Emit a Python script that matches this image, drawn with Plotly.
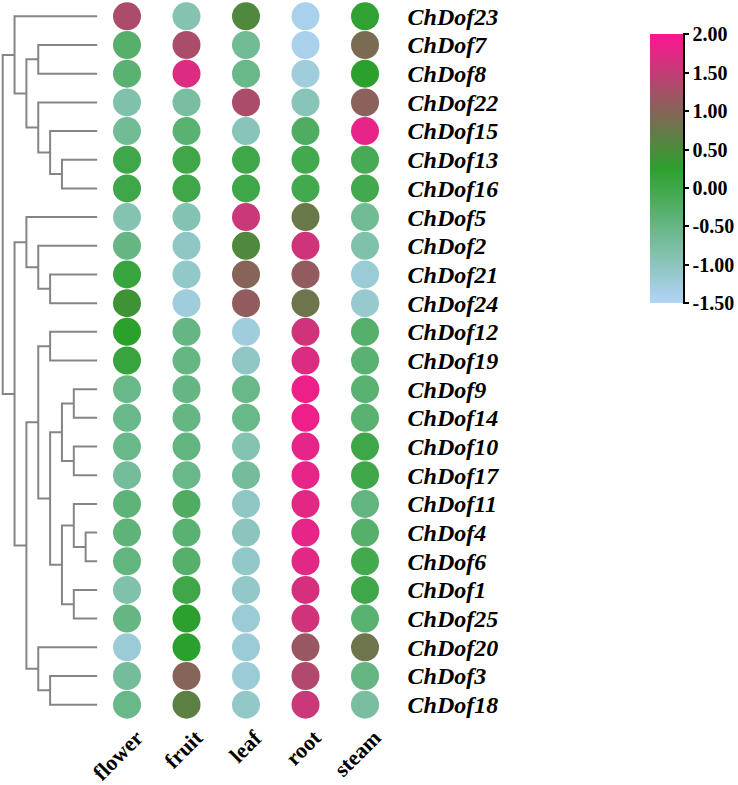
import plotly.graph_objects as go

tissues = ["flower", "fruit", "leaf", "root", "steam"]
genes = ["ChDof23", "ChDof7", "ChDof8", "ChDof22", "ChDof15", "ChDof13", "ChDof16",
         "ChDof5", "ChDof2", "ChDof21", "ChDof24", "ChDof12", "ChDof19", "ChDof9",
         "ChDof14", "ChDof10", "ChDof17", "ChDof11", "ChDof4", "ChDof6", "ChDof1",
         "ChDof25", "ChDof20", "ChDof3", "ChDof18"]

flower = [1.3, -0.3, -0.35, -0.85, -0.65, 0.0, 0.0, -0.9, -0.5, 0.1, 0.4, 0.25, 0.1,
          -0.55, -0.55, -0.55, -0.7, -0.4, -0.4, -0.45, -0.85, -0.5, -1.2, -0.7, -0.55]
fruit = [-0.9, 1.3, 1.7, -0.75, -0.35, 0.0, 0.0, -0.9, -1.05, -1.1, -1.25, -0.5, -0.5,
         -0.5, -0.5, -0.45, -0.55, -0.2, -0.35, -0.3, 0.0, 0.25, 0.25, 1.0, 0.65]
leaf = [0.55, -0.65, -0.55, 1.3, -0.95, 0.0, 0.0, 1.55, 0.55, 1.0, 1.1, -1.25, -1.05,
        -0.55, -0.55, -0.9, -0.7, -1.05, -1.0, -1.1, -1.1, -1.2, -1.2, -1.2, -1.1]
root = [-1.4, -1.4, -1.25, -0.95, -0.2, -0.05, -0.05, 0.75, 1.6, 1.1, 0.8, 1.6, 1.7,
        1.85, 1.85, 1.8, 1.8, 1.75, 1.8, 1.75, 1.65, 1.6, 1.15, 1.35, 1.55]
steam = [0.2, 0.9, 0.25, 1.05, 1.8, -0.1, -0.05, -0.65, -0.85, -1.2, -1.15, -0.3, -0.35,
         -0.35, -0.35, 0.0, 0.0, -0.45, -0.3, -0.05, 0.0, -0.35, 0.8, -0.5, -0.75]

cbar_ticks = [-1.5, -1.0, -0.5, 0.0, 0.5, 1.0, 1.5, 2.0]

# dendrogram topology (nested pairs of gene names)
tree = (
    ("ChDof23", (("ChDof7", "ChDof8"),
                 ("ChDof22", ("ChDof15", ("ChDof13", "ChDof16"))))),
    (("ChDof5", ("ChDof2", ("ChDof21", "ChDof24"))),
     ((("ChDof12", "ChDof19"),
       ((("ChDof9", "ChDof14"), ("ChDof10", "ChDof17")),
        (("ChDof11", ("ChDof4", "ChDof6")), ("ChDof1", "ChDof25")))),
      ("ChDof20", ("ChDof3", "ChDof18")))),
)

W, H = 738, 785
LEAF_D = 8
row_top, row_step = 16.0, 28.7
plot_top = row_top - row_step / 2
plot_bot = row_top + row_step * (len(genes) - 1) + row_step / 2
mb = H - plot_bot
ph = plot_bot - plot_top
col0, col_step = 127.0, 59.5
x0_px = col0 - col_step / 2
x1_px = col0 + col_step * (len(tissues) - 1) + col_step / 2
dend_root, dend_step = 2.7, 11.85

def py(p):
    return (plot_bot - p) / ph

fig = go.Figure()

# dendrogram
dx, dy = [], []
def walk(node, depth):
    if isinstance(node, str):
        return genes.index(node), LEAF_D
    (ya, xa) = walk(node[0], depth + 1)
    (yb, xb) = walk(node[1], depth + 1)
    dx.extend([xa, depth, depth, xb, None])
    dy.extend([ya, ya, yb, yb, None])
    return (ya + yb) / 2, depth
walk(tree, 0)

fig.add_trace(go.Scatter(x=dx, y=dy, mode="lines", xaxis="x2", yaxis="y2",
                         line=dict(color="#858585", width=2), hoverinfo="skip",
                         showlegend=False))

# bubbles
series = [flower, fruit, leaf, root, steam]
xs, ys, cs = [], [], []
for t, vals in zip(tissues, series):
    for g, v in zip(genes, vals):
        xs.append(t)
        ys.append(g)
        cs.append(v)

cb_top, cb_bot = 34, 303
cb_left, cb_right = 650, 683
fig.add_trace(go.Scatter(
    x=xs, y=ys, mode="markers", showlegend=False,
    marker=dict(size=28, color=cs, cmin=-1.5, cmax=2.0,
                colorscale=[[0, "#b2d4f8"], [0.5, "#2ca02c"], [1, "#ff1493"]],
                line=dict(width=0),
                colorbar=dict(
                    x=cb_left / W, xanchor="left", xpad=0,
                    y=py(cb_top), yanchor="top", ypad=0,
                    lenmode="pixels", len=cb_bot - cb_top,
                    thickness=cb_right - cb_left, outlinewidth=0,
                    ticks="outside", ticklen=6, tickwidth=2, tickcolor="black",
                    tickmode="array", tickvals=cbar_ticks,
                    ticktext=["%.2f" % v for v in cbar_ticks],
                    tickfont=dict(family="Liberation Serif", size=20, color="black",
                                  weight="bold"),
                ))))

# colorbar axis line
fig.add_shape(type="line", xref="paper", yref="paper",
              x0=(cb_right + 1) / W, x1=(cb_right + 1) / W,
              y0=py(cb_top), y1=py(cb_bot),
              line=dict(color="black", width=2))

# rotated tissue labels
for t in tissues:
    fig.add_annotation(x=t, xref="x", y=py(724), yref="paper", text=t,
                       showarrow=False, textangle=-45, xanchor="right",
                       yanchor="top", xshift=22, borderpad=0,
                       font=dict(family="Liberation Serif", size=22, color="black",
                                 weight="bold"))

fig.update_layout(
    width=W, height=H,
    margin=dict(l=0, r=0, t=plot_top, b=mb, pad=0, autoexpand=False),
    plot_bgcolor="white", paper_bgcolor="white",
    xaxis=dict(domain=[x0_px / W, x1_px / W], type="category",
               categoryorder="array", categoryarray=tissues,
               range=[-0.5, len(tissues) - 0.5], showgrid=False, zeroline=False,
               showline=False, ticks="", showticklabels=False),
    yaxis=dict(type="category", categoryorder="array", categoryarray=genes,
               tickmode="array", tickvals=genes, ticktext=genes,
               range=[len(genes) - 0.5, -0.5], side="right", showgrid=False,
               zeroline=False, showline=False,
               ticks="outside", ticklen=7, tickcolor="rgba(0,0,0,0)",
               tickfont=dict(family="Liberation Serif", size=24, color="black",
                             weight="bold", style="italic")),
    xaxis2=dict(domain=[0, x0_px / W],
                range=[-dend_root / dend_step, (x0_px - dend_root) / dend_step],
                visible=False, anchor="y2"),
    yaxis2=dict(domain=[0, 1], range=[len(genes) - 0.5, -0.5], visible=False,
                anchor="x2"),
)

fig.write_html("out.html", config={"displayModeBar": False},
               post_script="document.body.style.margin='0';")
